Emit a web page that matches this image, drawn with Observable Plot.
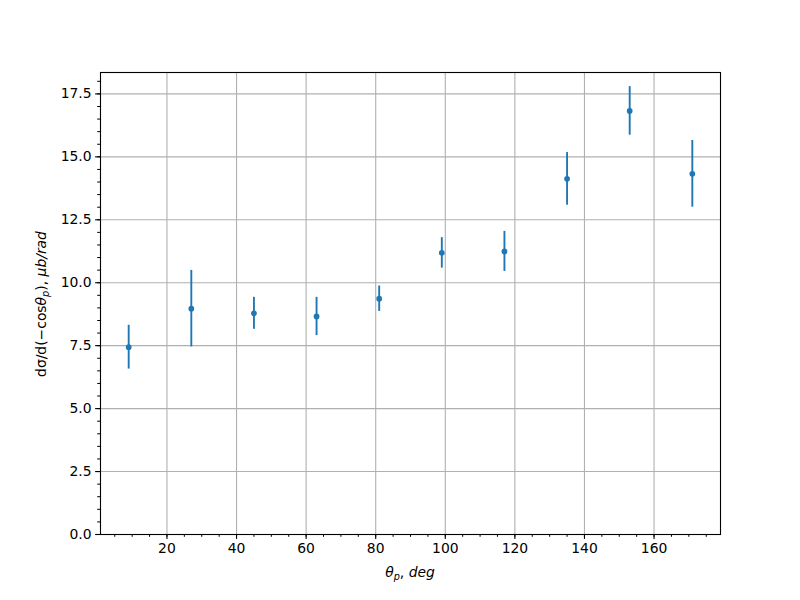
<!DOCTYPE html>
<html><head><meta charset="utf-8">
<script src="https://cdn.jsdelivr.net/npm/d3@7"></script>
<script src="https://cdn.jsdelivr.net/npm/@observablehq/plot@0.6"></script>
<style>body{margin:0;background:#fff} svg{font-family:"DejaVu Sans",sans-serif}</style>
</head><body><div id="chart"></div>
<script>
const theta = [9, 27, 45, 63, 81, 99, 117, 135, 153, 171];
const xsec = [7.44, 8.97, 8.785, 8.66, 9.365, 11.185, 11.245, 14.125, 16.825, 14.325];
const xsecErr = [0.87, 1.52, 0.635, 0.76, 0.505, 0.605, 0.795, 1.045, 0.965, 1.325];
const xTicks = [20, 40, 60, 80, 100, 120, 140, 160];
const xMinor = d3.range(5, 180, 5);
const yTicks = [0, 2.5, 5, 7.5, 10, 12.5, 15, 17.5];
const yMinor = d3.range(0, 18.35, 0.5);

const data = theta.map((t, i) => ({t, v: xsec[i], lo: xsec[i] - xsecErr[i], hi: xsec[i] + xsecErr[i]}));
const blue = "#1f77b4";

const plot = Plot.plot({
  width: 800, height: 600,
  marginLeft: 100, marginRight: 80, marginTop: 72, marginBottom: 66,
  style: {fontFamily: "DejaVu Sans", fontSize: "13.9px", color: "#000", background: "#fff"},
  x: {domain: [0.9, 179.1]},
  y: {domain: [0, 18.35]},
  marks: [
    Plot.gridX(xTicks, {stroke: "#b0b0b0", strokeOpacity: 1, strokeWidth: 1.1}),
    Plot.gridY(yTicks, {stroke: "#b0b0b0", strokeOpacity: 1, strokeWidth: 1.1}),
    Plot.axisX(xMinor, {tickSize: 2.8, text: null, label: null, strokeWidth: 1}),
    Plot.axisY(yMinor, {tickSize: 2.8, text: null, label: null, strokeWidth: 1}),
    Plot.axisX(xTicks, {tickSize: 4.9, tickPadding: 4, label: null, strokeWidth: 1.1, fill: "#000"}),
    Plot.axisY(yTicks, {tickSize: 4.9, tickPadding: 4, label: null, strokeWidth: 1.1, fill: "#000", tickFormat: d => d.toFixed(1)}),
    Plot.ruleX(data, {x: "t", y1: "lo", y2: "hi", stroke: blue, strokeWidth: 1.9}),
    Plot.dot(data, {x: "t", y: "v", r: 2.85, fill: blue, stroke: "none"}),
    Plot.frame({stroke: "#000", strokeWidth: 1.1})
  ]
});
document.getElementById("chart").appendChild(plot);

const svg = d3.select(plot);
// x label: θ_p, deg
const xl = svg.append("text").attr("x", 410).attr("y", 577).attr("text-anchor", "middle")
  .attr("font-size", "13.9px").attr("fill", "#000");
xl.append("tspan").attr("font-style", "italic").text("θ");
xl.append("tspan").attr("font-style", "italic").attr("font-size", "9.7px").attr("dy", "3").text("p");
xl.append("tspan").attr("dy", "-3").text(", ");
xl.append("tspan").attr("font-style", "italic").text("deg");

// y label: dσ/d(−cosθ_p), μb/rad
const yl = svg.append("text").attr("transform", "translate(46,304) rotate(-90)").attr("text-anchor", "middle")
  .attr("font-size", "13.9px").attr("fill", "#000");
yl.append("tspan").text("dσ/d(−cos");
yl.append("tspan").attr("font-style", "italic").text("θ");
yl.append("tspan").attr("font-style", "italic").attr("font-size", "9.7px").attr("dy", "3").text("p");
yl.append("tspan").attr("dy", "-3").text("), ");
yl.append("tspan").attr("font-style", "italic").text("μb/rad");
</script>
</body></html>
